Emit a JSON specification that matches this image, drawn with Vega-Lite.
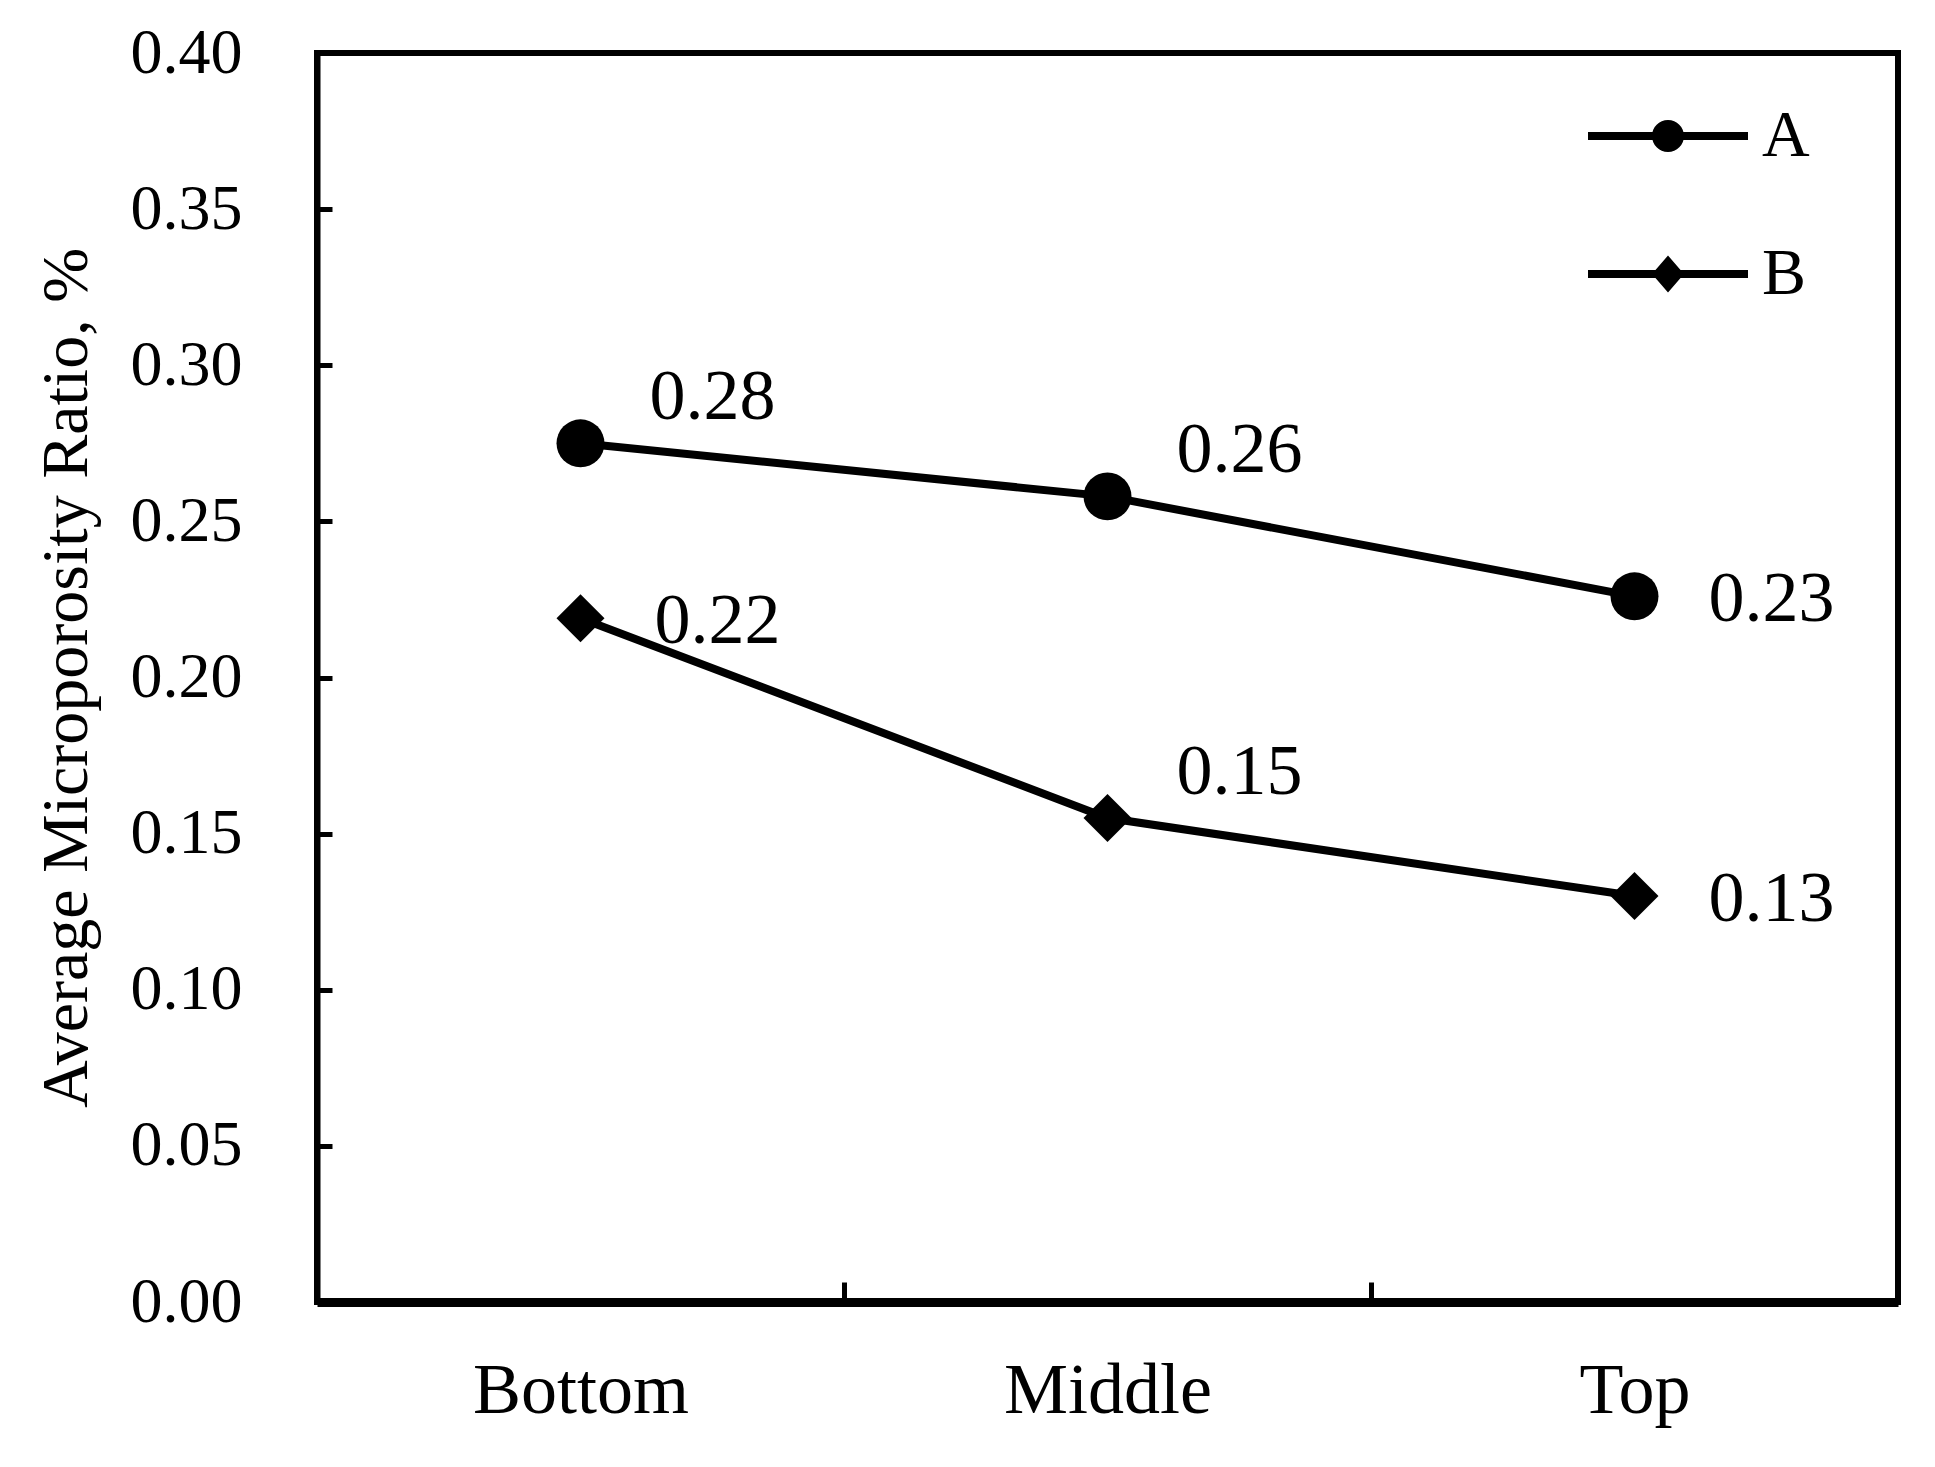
{
  "$schema": "https://vega.github.io/schema/vega-lite/v6.json",
  "width": 1581,
  "height": 1249,
  "autosize": {"type": "none"},
  "padding": {"left": 317, "top": 53, "right": 37, "bottom": 165},
  "background": "white",
  "config": {
    "view": {"stroke": "black", "strokeWidth": 6},
    "font": "Liberation Serif"
  },
  "data": {
    "values": [
      {"series": "A", "position": "Bottom", "value": 0.275, "label": "0.28", "place": "above"},
      {"series": "A", "position": "Middle", "value": 0.258, "label": "0.26", "place": "above"},
      {"series": "A", "position": "Top", "value": 0.226, "label": "0.23", "place": "right"},
      {"series": "B", "position": "Bottom", "value": 0.219, "label": "0.22", "place": "right"},
      {"series": "B", "position": "Middle", "value": 0.155, "label": "0.15", "place": "above"},
      {"series": "B", "position": "Top", "value": 0.130, "label": "0.13", "place": "right"}
    ]
  },
  "encoding": {
    "x": {
      "field": "position",
      "type": "nominal",
      "sort": ["Bottom", "Middle", "Top"],
      "scale": {"type": "band", "paddingInner": 0, "paddingOuter": 0},
      "axis": {
        "title": null,
        "labelAngle": 0,
        "labelFontSize": 72,
        "labelColor": "black",
        "labelPadding": 73,
        "labelLimit": 0,
        "tickBand": "extent",
        "tickSize": -20,
        "tickWidth": 5,
        "tickColor": "black",
        "domainColor": "black",
        "domainWidth": 9,
        "grid": false
      }
    },
    "y": {
      "field": "value",
      "type": "quantitative",
      "scale": {"domain": [0, 0.4], "nice": false},
      "axis": {
        "values": [0, 0.05, 0.1, 0.15, 0.2, 0.25, 0.3, 0.35, 0.4],
        "format": ".2f",
        "title": "Average Microporosity Ratio, %",
        "titleFontSize": 66,
        "titleFontWeight": "normal",
        "titleColor": "black",
        "titlePadding": 30,
        "labelFontSize": 64,
        "labelColor": "black",
        "labelPadding": 90,
        "tickSize": -15,
        "tickWidth": 5,
        "tickColor": "black",
        "domainColor": "black",
        "domainWidth": 6,
        "grid": false
      }
    }
  },
  "resolve": {"scale": {"shape": "independent"}},
  "layer": [
    {
      "mark": {"type": "line", "color": "black", "strokeWidth": 8},
      "encoding": {"detail": {"field": "series", "type": "nominal"}}
    },
    {
      "mark": {"type": "point", "filled": true, "color": "black", "opacity": 1, "size": 2300},
      "encoding": {
        "shape": {
          "field": "series",
          "type": "nominal",
          "scale": {"domain": ["A", "B"], "range": ["circle", "diamond"]},
          "legend": null
        }
      }
    },
    {
      "mark": {"type": "point", "filled": true, "color": "black", "opacity": 0, "size": 10},
      "encoding": {
        "shape": {
          "field": "series",
          "type": "nominal",
          "scale": {"domain": ["A", "B"], "range": ["M-5,-0.25H5V0.25H-5ZM1,0A1,1,0,1,1,-1,0A1,1,0,1,1,1,0Z", "M-5,-0.25H5V0.25H-5ZM0,-1.15L1,0L0,1.15L-1,0Z"]},
          "legend": {
            "title": null,
            "orient": "none",
            "legendX": 1318,
            "legendY": 50,
            "padding": 0,
            "symbolSize": 1024,
            "symbolOpacity": 1,
            "symbolFillColor": "black",
            "labelFontSize": 66,
            "labelColor": "black",
            "labelOffset": 61,
            "rowPadding": 72
          }
        }
      }
    },
    {
      "transform": [{"filter": "datum.place === 'above'"}],
      "mark": {"type": "text", "fontSize": 72, "color": "black", "align": "center", "baseline": "middle", "dx": 132, "dy": -46},
      "encoding": {"text": {"field": "label"}}
    },
    {
      "transform": [{"filter": "datum.place === 'right'"}],
      "mark": {"type": "text", "fontSize": 72, "color": "black", "align": "center", "baseline": "middle", "dx": 137, "dy": 3},
      "encoding": {"text": {"field": "label"}}
    }
  ]
}
